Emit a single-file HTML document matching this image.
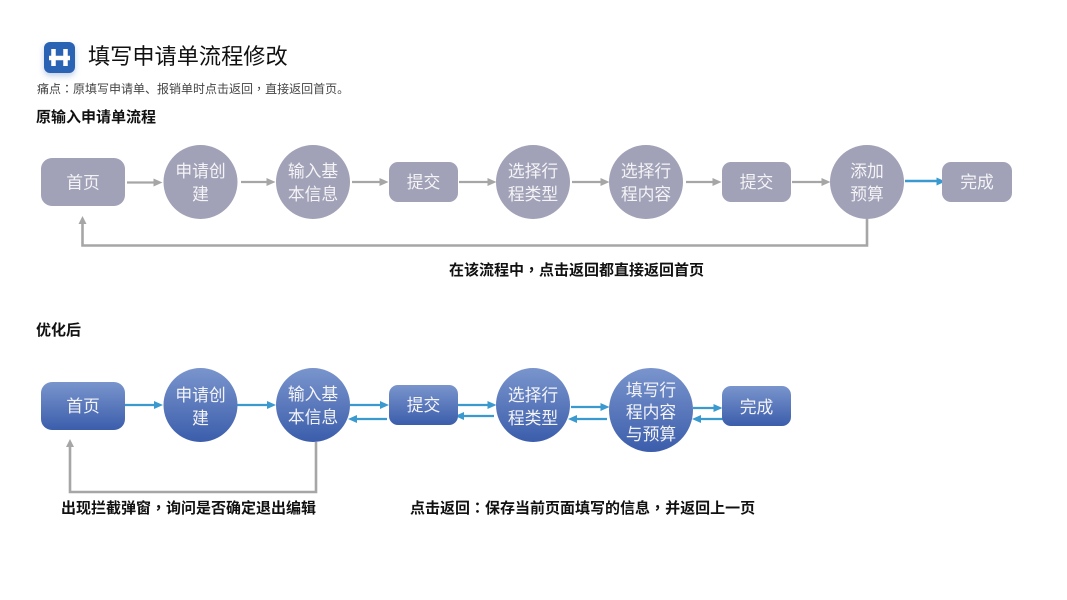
<!DOCTYPE html>
<html><head><meta charset="utf-8">
<style>
html,body{margin:0;padding:0;background:#fff;width:1067px;height:600px;overflow:hidden}
svg{display:block}
text{font-family:"Liberation Sans","Noto Sans CJK SC",sans-serif}
.n{fill:#f4f4f7;font-size:16.800px;text-anchor:middle}
.b{fill:#111;font-size:15px;font-weight:bold}
.c{font-family:"Noto Sans CJK TC",sans-serif}
</style></head><body>
<svg width="1067" height="600" viewBox="0 0 1067 600" xmlns="http://www.w3.org/2000/svg">
<defs>
<linearGradient id="g" x1="0" y1="0" x2="0" y2="1"><stop offset="0" stop-color="#7a95cd"/><stop offset="1" stop-color="#3b5dab"/></linearGradient>
<filter id="s" x="-30%" y="-30%" width="160%" height="160%"><feDropShadow dx="0" dy="3" stdDeviation="3" flood-color="#3b63b0" flood-opacity=".3"/></filter>
</defs>

<!-- header -->
<rect x="44" y="42" width="31" height="31" rx="6" fill="#2b62b4" filter="url(#s)"/>
<path d="M53.500 49v17M65.500 49v17M49 58h21" stroke="#fff" stroke-width="4.500" fill="none" stroke-linecap="butt"/>
<text x="88" y="64" font-size="22.200" fill="#111">填写申请单流程修改</text>
<text x="37" y="93" font-size="12" fill="#444">痛点<tspan class="c">：</tspan>原填写申请单、报销单时点击返回<tspan class="c">，</tspan>直接返回首页。</text>
<text x="36" y="122" class="b">原输入申请单流程</text>

<!-- row 1 arrows -->
<g stroke="#a6a6a6" stroke-width="2.300" fill="none">
<path d="M127 182.500H155M241 182H268M352 182H380M459 182H488M572 182H601M686 182H713M792 182H822"/>
<path d="M867 219V245.500H82.500V222" stroke-width="2.600"/>
</g>
<g fill="#a6a6a6">
<path d="M162.500 182.500l-9-4v8zM275.500 182l-9-4v8zM388.500 182l-9-4v8zM496.500 182l-9-4v8zM609.500 182l-9-4v8zM721.500 182l-9-4v8zM830.500 182l-9-4v8z"/>
<path d="M82.500 216l-4 8h8z"/>
</g>
<path d="M905 181H937" stroke="#3a9ad0" stroke-width="2.600"/>
<path d="M945.500 181.500l-9-4v8z" fill="#3a9ad0"/>

<!-- row 1 nodes -->
<g fill="#a1a1b7">
<rect x="41" y="158" width="84" height="48" rx="11"/>
<circle cx="200.500" cy="182" r="37"/>
<circle cx="313" cy="182" r="37"/>
<rect x="389" y="162" width="69" height="40" rx="9"/>
<circle cx="533" cy="182" r="37"/>
<circle cx="646" cy="182" r="37"/>
<rect x="722" y="162" width="69" height="40" rx="9"/>
<circle cx="867" cy="182" r="37"/>
<rect x="942" y="162" width="70" height="40" rx="9"/>
</g>
<g>
<text class="n" x="83" y="188.500">首页</text>
<text class="n" x="200.500" y="177">申请创</text><text class="n" x="200.500" y="200">建</text>
<text class="n" x="313" y="177">输入基</text><text class="n" x="313" y="200">本信息</text>
<text class="n" x="423.500" y="188">提交</text>
<text class="n" x="533" y="177">选择行</text><text class="n" x="533" y="200">程类型</text>
<text class="n" x="646" y="177">选择行</text><text class="n" x="646" y="200">程内容</text>
<text class="n" x="756.500" y="188">提交</text>
<text class="n" x="867" y="177">添加</text><text class="n" x="867" y="200">预算</text>
<text class="n" x="977" y="188">完成</text>
</g>
<text x="449" y="275" class="b">在该流程中<tspan class="c">，</tspan>点击返回都直接返回首页</text>
<text x="36" y="335" class="b">优化后</text>

<!-- row 2 arrows -->
<g stroke="#3a9ad0" stroke-width="2.300" fill="none">
<path d="M125 405H155M237 405H268M350 405H381M458 405H488M571 407H601M693 408H714M356 419H387M463 416H494M576 419H607M700 419H724"/>
</g>
<g fill="#3a9ad0">
<path d="M163 405l-9-4v8zM276 405l-9-4v8zM389 405l-9-4v8zM496.500 405l-9-4v8zM609.500 407l-9-4v8zM722.500 408l-9-4v8z"/>
<path d="M348 419l9-4v8zM455 416l9-4v8zM568 419l9-4v8zM692 419l9-4v8z"/>
</g>
<path d="M316 442V492H70V445" stroke="#a6a6a6" stroke-width="2.600" fill="none"/>
<path d="M70 439l-4 8h8z" fill="#a6a6a6"/>

<!-- row 2 nodes -->
<g fill="url(#g)">
<rect x="41" y="382" width="84" height="48" rx="11"/>
<circle cx="200.500" cy="405" r="37"/>
<circle cx="313" cy="405" r="37"/>
<rect x="389" y="385" width="69" height="40" rx="9"/>
<circle cx="533" cy="405" r="37"/>
<circle cx="651" cy="410" r="42"/>
<rect x="722" y="386" width="69" height="40" rx="9"/>
</g>
<g>
<text class="n" x="83" y="412">首页</text>
<text class="n" x="200.500" y="401">申请创</text><text class="n" x="200.500" y="424">建</text>
<text class="n" x="313" y="400">输入基</text><text class="n" x="313" y="423">本信息</text>
<text class="n" x="423.500" y="411">提交</text>
<text class="n" x="533" y="401">选择行</text><text class="n" x="533" y="424">程类型</text>
<text class="n" x="651" y="396">填写行</text><text class="n" x="651" y="418">程内容</text><text class="n" x="651" y="440">与预算</text>
<text class="n" x="756.500" y="413">完成</text>
</g>
<text x="61" y="513" class="b">出现拦截弹窗<tspan class="c">，</tspan>询问是否确定退出编辑</text>
<text x="410" y="513" class="b">点击返回<tspan class="c">：</tspan>保存当前页面填写的信息<tspan class="c">，</tspan>并返回上一页</text>
</svg>
</body></html>
